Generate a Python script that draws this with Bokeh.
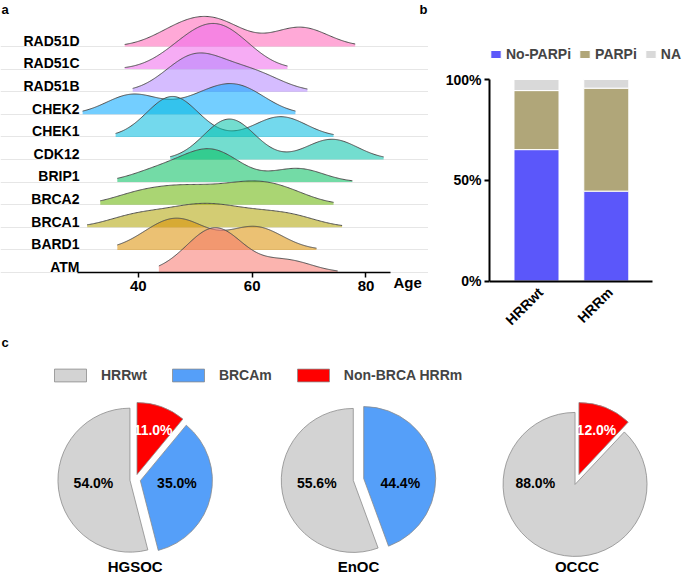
import numpy as np
from bokeh.plotting import figure
from bokeh.models import ColumnDataSource, FixedTicker, Grid, Legend, LegendItem, Range1d
from bokeh.layouts import column, row
from bokeh.core.properties import value
from bokeh.embed import file_html
from bokeh.resources import INLINE

FONT = "Liberation Sans"

# ---------------- Panel a: ages per mutated gene ----------------
GENES = ["ATM", "BARD1", "BRCA1", "BRCA2", "BRIP1", "CDK12", "CHEK1", "CHEK2", "RAD51B", "RAD51C", "RAD51D"]
ATM_AGES = [50, 54, 54, 55, 66]
BARD1_AGES = [43, 47, 49, 59, 62]
BRCA1_AGES = [38, 43, 48, 51, 54, 58, 63, 68]
BRCA2_AGES = [39, 44, 48, 52, 57, 60, 63, 67]
BRIP1_AGES = [42, 46, 50, 52, 53, 54, 56, 68, 68]
CDK12_AGES = [56, 56, 74]
CHEK1_AGES = [46, 46, 65]
CHEK2_AGES = [38, 40, 50, 55, 57, 60]
RAD51B_AGES = [47, 49, 51, 53, 58, 62]
RAD51C_AGES = [47, 51, 53, 55, 58]
RAD51D_AGES = [46, 50, 53, 56, 67, 70]
AGE_FROM = [43.6, 36.3, 31.0, 33.3, 36.3, 45.6, 36.0, 30.2, 39.0, 37.6, 37.6]
AGE_TO = [75.0, 71.3, 75.8, 74.3, 77.6, 83.1, 74.3, 67.6, 69.7, 66.2, 78.1]
AGE_TICKS = [40, 60, 80]

# ---------------- Panel b: treatment shares ----------------
BAR_GROUPS = ["HRRwt", "HRRm"]
NO_PARPI = [65.2, 44.6]
PARPI = [29.3, 51.1]
NA_SHARE = [5.5, 4.3]
PCT_TICKS = [0, 50, 100]

# ---------------- Panel c: HRR status per histotype ----------------
PIE_GROUPS = ["HGSOC", "EnOC", "OCCC"]
HRRWT_PCT = [54.0, 55.6, 88.0]
BRCAM_PCT = [35.0, 44.4, 0.0]
NONBRCA_PCT = [11.0, 0.0, 12.0]

GENE_AGES = [ATM_AGES, BARD1_AGES, BRCA1_AGES, BRCA2_AGES, BRIP1_AGES, CDK12_AGES,
             CHEK1_AGES, CHEK2_AGES, RAD51B_AGES, RAD51C_AGES, RAD51D_AGES]
RIDGE_COLORS = ["#F8766D", "#DB8E00", "#AEA200", "#64B200", "#00BD5C", "#00C1A7",
                "#00BADE", "#00A6FF", "#B385FF", "#EF67EB", "#FF63B6"]

H_TOP = 328
W_A, W_B = 428, 257
W_C, H_C = 685, 575 - H_TOP

# ================= Panel a =================
BW = 4.5
SCALE = 2.02
OFF = 0.25           # gene label sits this far above its baseline
PX_X = 5.69          # px per year
PX_Y = 22.6          # px per ridge row
AX_LO, AX_HI = 29.3, 84.3
A_BOTTOM = 32


def kde(ages, grid):
    a = np.asarray(ages, float)[:, None]
    k = np.exp(-0.5 * ((grid[None, :] - a) / BW) ** 2)
    return k.sum(0) / (len(ages) * BW * np.sqrt(2 * np.pi))


grids = [np.linspace(f, t, 200) for f, t in zip(AGE_FROM, AGE_TO)]
dens = [kde(a, g) for a, g in zip(GENE_AGES, grids)]
gmax = max(d.max() for d in dens)

xa0 = AX_LO - 77 / PX_X
xa1 = xa0 + W_A / PX_X
ya1 = -OFF + 272 / PX_Y
ya0 = -OFF - (H_TOP - A_BOTTOM - 272) / PX_Y

pa = figure(width=W_A, height=H_TOP, title=None, output_backend="svg", toolbar_location=None,
            x_range=Range1d(xa0, xa1), y_range=Range1d(ya0, ya1), y_axis_location=None,
            min_border_left=0, min_border_right=0, min_border_top=0, min_border_bottom=A_BOTTOM)
pa.frame_align = False
pa.outline_line_color = None
pa.grid.visible = False
pa.add_layout(Grid(dimension=1, ticker=FixedTicker(ticks=[i - OFF for i in range(len(GENES))]),
                   bounds=(AX_LO, AX_HI), grid_line_color="#E6E6E6", grid_line_width=1))

for i in reversed(range(len(GENES))):
    base = i - OFF
    g = grids[i]
    h = dens[i] / gmax * SCALE
    xs = np.concatenate([[g[0]], g, [g[-1]]])
    ys = np.concatenate([[base], base + h, [base]])
    pa.patch(xs, ys, fill_color=RIDGE_COLORS[i], fill_alpha=0.55, line_color=None)
    pa.line(g, base + h, line_color="#505050", line_width=1)

pa.xaxis.fixed_location = -OFF
pa.xaxis.bounds = (AX_LO, AX_HI)
pa.xaxis.ticker = FixedTicker(ticks=AGE_TICKS)
pa.xaxis.minor_tick_line_color = None
pa.xaxis.major_tick_out = 5
pa.xaxis.major_tick_in = 0
pa.xaxis.major_tick_line_width = 1.5
pa.xaxis.axis_line_width = 1.5
pa.xaxis.axis_line_color = "black"
pa.xaxis.major_tick_line_color = "black"
pa.xaxis.major_label_text_font = FONT
pa.xaxis.major_label_text_font_style = "bold"
pa.xaxis.major_label_text_font_size = "15px"
pa.xaxis.major_label_text_color = "black"
pa.xaxis.major_label_standoff = 3

txt = dict(text_font=value(FONT), text_font_style="bold", text_color="black")
pa.text(x=[AX_LO + 2 / PX_X] * len(GENES), y=list(range(len(GENES))), text=GENES,
        text_font_size="14px", text_align="right", text_baseline="middle", **txt)
pa.text(x=[AX_HI + 3 / PX_X], y=[-OFF - 10 / PX_Y], text=["Age"], text_font_size="15px",
        text_align="left", text_baseline="middle", **txt)
pa.text(x=[xa0 + 1 / PX_X, xa0 + 419 / PX_X], y=[ya1 - 1 / PX_Y] * 2, text=["a", "b"],
        text_font_size="13px", text_align="left", text_baseline="top", **txt)

# ================= Panel b =================
PX_B = 69.8       # px per bar slot
PX_P = 2.015      # px per percent
B_LEFT, B_BOTTOM = 61, 0
xb0 = 1 - 47 / PX_B
xb1 = xb0 + (W_B - B_LEFT) / PX_B
yb1 = 100 + 79 / PX_P
yb0 = -(H_TOP - B_BOTTOM - 280.5) / PX_P

bar_src = ColumnDataSource(dict(x=[1, 2], NoPARPi=NO_PARPI, PARPi=PARPI, NA=NA_SHARE))
pb = figure(width=W_B, height=H_TOP, title=None, output_backend="svg", toolbar_location=None,
            x_range=Range1d(xb0, xb1), y_range=Range1d(yb0, yb1),
            min_border_left=B_LEFT, min_border_right=0, min_border_top=0, min_border_bottom=B_BOTTOM)
pb.frame_align = False
pb.outline_line_color = None
pb.grid.visible = False
bars = pb.vbar_stack(["NoPARPi", "PARPi", "NA"], x="x", width=0.645, source=bar_src,
                     color=["#5B57FA", "#B0A679", "#D9D9D9"], line_color="white", line_width=1)

pb.yaxis.bounds = (0, 100)
pb.yaxis.ticker = FixedTicker(ticks=PCT_TICKS)
pb.yaxis.major_label_overrides = {t: f"{t}%" for t in PCT_TICKS}
pb.yaxis.axis_line_width = 2
pb.yaxis.axis_line_color = "black"
pb.yaxis.minor_tick_line_color = None
pb.yaxis.major_label_text_font = FONT
pb.yaxis.major_label_text_font_style = "bold"
pb.yaxis.major_label_text_font_size = "14px"
pb.yaxis.major_label_text_color = "black"
pb.yaxis.major_tick_out = 5
pb.yaxis.major_tick_in = 0
pb.yaxis.major_tick_line_width = 2
pb.yaxis.major_tick_line_color = "black"
pb.yaxis.major_label_standoff = 3

pb.xaxis.fixed_location = 0
pb.xaxis.bounds = (xb0, 1 + (652 - 536) / PX_B)
pb.xaxis.ticker = FixedTicker(ticks=[])
pb.xaxis.minor_tick_line_color = None
pb.xaxis.major_tick_line_color = None
pb.xaxis.axis_line_width = 2
pb.xaxis.axis_line_color = "black"

pb.text(x=[1 + 4 / PX_B, 2 + 4 / PX_B], y=[-9 / PX_P] * 2, text=BAR_GROUPS, angle=np.pi / 4,
        text_font_size="14px", text_align="right", text_baseline="middle", **txt)

leg_b = Legend(items=[LegendItem(label=n, renderers=[r]) for n, r in zip(["No-PARPi", "PARPi", "NA"], bars)],
               orientation="horizontal", location=(0, H_TOP - B_BOTTOM - 62), padding=0, margin=0, spacing=7,
               label_standoff=4, glyph_width=13, glyph_height=10, label_height=12,
               label_text_font=FONT, label_text_font_style="bold", label_text_font_size="14px",
               border_line_color=None, background_fill_alpha=0)
pb.add_layout(leg_b)

# ================= Panel c =================
pc = figure(width=W_C, height=H_C, title=None, output_backend="svg", toolbar_location=None,
            x_range=Range1d(0, W_C), y_range=Range1d(0, H_C), min_border=0,
            x_axis_location=None, y_axis_location=None)
pc.frame_align = False
pc.outline_line_color = None
pc.grid.visible = False

PIE_CX = [134.7, 358.0, 576.5]
PIE_CY = 575 - 479
R = 72
EXPLODE = 5.3
cats = [("Non-BRCA HRRm", NONBRCA_PCT, "#FF0000", "white"),
        ("BRCAm", BRCAM_PCT, "#559FF9", "black"),
        ("HRRwt", HRRWT_PCT, "#D3D3D3", "black")]
wedge_data = {c[0]: dict(x=[], y=[], s=[], e=[]) for c in cats}
lab = dict(x=[], y=[], t=[], c=[])
for j, cx in enumerate(PIE_CX):
    theta = 0.0
    for name, vals, col, tcol in cats:
        v = vals[j]
        if v <= 0:
            continue
        t0 = theta
        t1 = theta + v / 100 * 2 * np.pi
        theta = t1
        tm = (t0 + t1) / 2
        d = wedge_data[name]
        d["x"].append(cx + EXPLODE * np.sin(tm))
        d["y"].append(PIE_CY + EXPLODE * np.cos(tm))
        d["s"].append(np.pi / 2 - t0)
        d["e"].append(np.pi / 2 - t1)
        if v >= 30:
            lx = cx + np.sign(np.sin(tm)) * 0.58 * R
            ly = PIE_CY - 0.05 * R
        else:
            rho = EXPLODE + 0.66 * R
            lx = cx + rho * np.sin(tm)
            ly = PIE_CY + rho * np.cos(tm)
        lab["x"].append(lx); lab["y"].append(ly); lab["t"].append(f"{v:.1f}%"); lab["c"].append(tcol)

wr = {}
for name, vals, col, tcol in cats:
    wr[name] = pc.wedge(x="x", y="y", radius=R, start_angle="s", end_angle="e", direction="clock",
                        source=ColumnDataSource(wedge_data[name]), fill_color=col,
                        line_color="#8C8C8C", line_width=0.8)

pc.text(x="x", y="y", text="t", text_color="c", source=ColumnDataSource(lab),
        text_font=value(FONT), text_font_style="bold", text_font_size="14px",
        text_align="center", text_baseline="middle")
pc.text(x=PIE_CX, y=[9] * 3, text=PIE_GROUPS, text_font_size="15px",
        text_align="center", text_baseline="middle", **txt)
pc.text(x=[1], y=[575 - 342], text=["c"], text_font_size="13px",
        text_align="left", text_baseline="middle", **txt)

leg_c = Legend(items=[LegendItem(label=n, renderers=[wr[n]]) for n in ["HRRwt", "BRCAm", "Non-BRCA HRRm"]],
               orientation="horizontal", location=(50, 575 - 383.3), padding=0, margin=0, spacing=21,
               label_standoff=11, glyph_width=40, glyph_height=16, label_height=16,
               label_text_font=FONT, label_text_font_style="bold", label_text_font_size="14px",
               border_line_color=None, background_fill_alpha=0)
pc.add_layout(leg_c)

layout = column(row(pa, pb), pc)
open("out.html", "w").write(file_html(layout, INLINE))
